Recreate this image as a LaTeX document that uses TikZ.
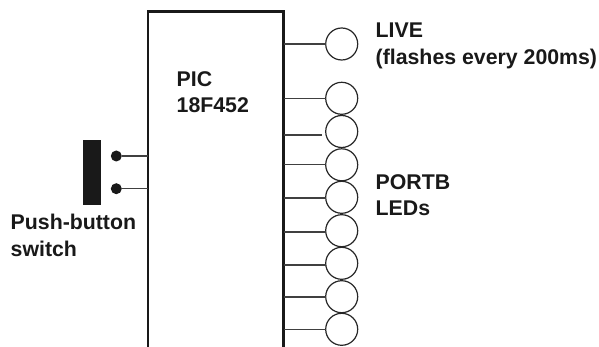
\documentclass[tikz,border=0pt]{standalone}
\usepackage{fontspec}
\setmainfont{Liberation Sans}
\tikzset{
  led/.style={circle,draw=black!85,line width=1.2pt,minimum size=32pt,inner sep=0pt},
  stub/.style={draw=black!75,line width=1.3pt},
  body/.style={draw=black!90,line width=2.4pt,line join=miter},
  dot/.style={circle,fill=black!90,minimum size=11pt,inner sep=0pt},
  lab/.style={font=\fontsize{21.3}{26.7}\selectfont\bfseries,align=left,anchor=north west,inner sep=0pt,text=black!90},
  barr/.style={fill=black!90,draw=none,minimum width=17.5pt,minimum height=65pt,inner sep=0pt}
}
\begin{document}
\begin{tikzpicture}[x=1pt,y=-1pt]
\useasboundingbox (0,0) rectangle (599,347);
\coordinate (bl) at (148,347);
\coordinate (tl) at (148,11.5);
\coordinate (tr) at (283.5,11.5);
\coordinate (br) at (283.5,347);
\draw[body] (bl) -- (tl) -- (tr) -- (br);
\node[barr] (sw) at (92,172.5) {};
\node[dot] (d1) at (116.3,156) {};
\node[dot] (d2) at (116.3,188.7) {};
\coordinate (p1) at (148,156);
\coordinate (p2) at (148,188.7);
\draw[stub] (d1) -- (p1);
\draw[stub] (d2) -- (p2);
\foreach \n/\cy/\sy in {a/44/44,b/98.3/98.7,d/164.8/164.3,e/197.3/198,f/230.7/232,g/263.3/265,h/296.7/297,i/329.3/329.5}{
  \node[led] (\n) at (341.7,\cy) {};
  \coordinate (s\n) at (283.5,\sy);
  \coordinate (e\n) at (325.7,\sy);
  \draw[stub] (s\n) -- (e\n);
}
\node[led] (c) at (341.7,131.5) {};
\coordinate (sc) at (283.5,135);
\coordinate (ec) at (321.7,135);
\draw[stub] (sc) -- (ec);
\node[lab] (pic) at (176.5,71) {PIC\\18F452};
\node[lab] (live) at (375.5,22.5) {LIVE\\(flashes every 200ms)};
\node[lab] (portb) at (375.5,174) {PORTB\\LEDs};
\node[lab] (pb) at (10.5,214) {Push-button\\switch};
\end{tikzpicture}
\end{document}
